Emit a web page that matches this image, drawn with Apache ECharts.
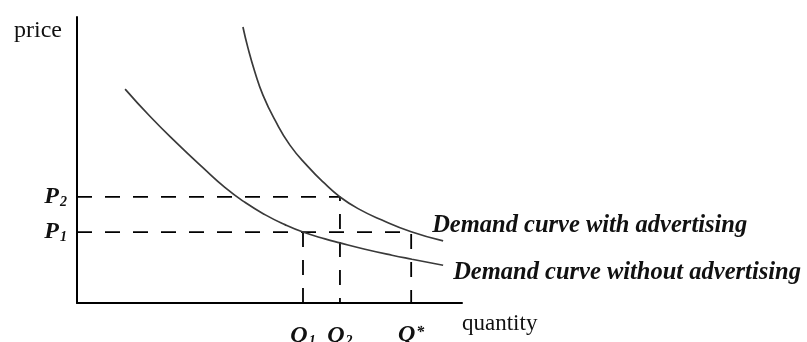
<!DOCTYPE html>
<html>
<head>
<meta charset="utf-8">
<script src="https://cdn.jsdelivr.net/npm/echarts@6/dist/echarts.min.js"></script>
<style>html,body{margin:0;padding:0;background:#fff}#c{width:807px;height:342px}</style>
</head>
<body>
<div id="c"></div>
<script>
// Quantity / price in arbitrary units (0-100 both axes)
const demandWithout = [[12.5,74.8],[19.0,65.2],[26.0,55.8],[32.7,47.3],[38.4,40.4],[43.6,35.2],[48.8,30.9],[54.0,27.4],[58.7,24.8],[64.4,22.4],[68.3,21.0],[74.8,18.8],[81.8,16.7],[87.0,15.3],[95.1,13.2]];
const demandWith = [[43.1,96.5],[44.4,89.2],[46.2,80.8],[48.3,72.7],[51.4,64.0],[55.3,55.2],[60.0,47.7],[64.4,41.7],[68.3,37.1],[73.0,33.0],[79.2,29.0],[86.8,24.9],[95.1,21.7]];
const P1 = 24.8, P2 = 37.1;
const Q1 = 58.7, Q2 = 68.3, QSTAR = 86.8;
const priceLabels = {P1: ['P','1'], P2: ['P','2']};
const quantityLabels = {Q1: ['Q','1'], Q2: ['Q','2'], QSTAR: ['Q','*']};
const seriesNames = ['Demand curve with advertising', 'Demand curve without advertising'];

const serif = '"Liberation Serif", "DejaVu Serif", serif';
const chart = echarts.init(document.getElementById('c'), null, {renderer: 'canvas'});
const dash = {color: '#000', width: 1.8, type: [15, 13]};
const curveStyle = {color: '#3a3a3a', width: 1.7};
const bi = {fontFamily: serif, fontWeight: 'bold', fontStyle: 'italic', color: '#111'};
const richLab = {
  m: Object.assign({fontSize: 24}, bi),
  s: Object.assign({fontSize: 14, padding: [11, 0, 0, 1]}, bi),
  u: Object.assign({fontSize: 16, padding: [0, 0, 4, 1]}, bi)
};
chart.setOption({
  animation: false,
  grid: {left: 77, right: 345, top: 17, bottom: 39, containLabel: false, outerBoundsMode: 'none'},
  xAxis: {
    type: 'value', min: 0, max: 100,
    axisLine: {show: true, lineStyle: {color: '#000', width: 2}},
    axisTick: {show: false}, splitLine: {show: false},
    axisLabel: {
      show: true, customValues: [Q1, Q2, QSTAR], margin: 20,
      formatter: v => {
        const k = v === Q1 ? 'Q1' : v === Q2 ? 'Q2' : 'QSTAR';
        const l = quantityLabels[k];
        return '{m|' + l[0] + '}' + (l[1] === '*' ? '{u|*}' : '{s|' + l[1] + '}');
      },
      rich: richLab
    },
    name: 'quantity', nameLocation: 'end', nameGap: 0,
    nameTextStyle: {fontFamily: serif, fontSize: 23, color: '#111', align: 'left', verticalAlign: 'top', padding: [9, 0, 0, 0]}
  },
  yAxis: {
    type: 'value', min: 0, max: 100,
    axisLine: {show: true, lineStyle: {color: '#000', width: 2}},
    axisTick: {show: false}, splitLine: {show: false},
    axisLabel: {
      show: true, customValues: [P1, P2], margin: 10,
      formatter: v => {
        const l = v === P1 ? priceLabels.P1 : priceLabels.P2;
        return '{m|' + l[0] + '}{s|' + l[1] + '}';
      },
      rich: richLab
    },
    name: 'price', nameLocation: 'end', nameGap: 0,
    nameTextStyle: {fontFamily: serif, fontSize: 24, color: '#111', align: 'right', verticalAlign: 'top', padding: [2, 15, 0, 0]}
  },
  series: [
    {type: 'line', data: [[0, P2], [Q2, P2], [Q2, 0]], symbol: 'none', lineStyle: dash, silent: true},
    {type: 'line', data: [[0, P1], [QSTAR, P1], [QSTAR, 0]], symbol: 'none', lineStyle: dash, silent: true},
    {type: 'line', data: [[Q1, P1], [Q1, 0]], symbol: 'none', lineStyle: dash, silent: true},
    {name: seriesNames[0], type: 'line', data: demandWith, smooth: 0.5, symbol: 'none', lineStyle: curveStyle,
      endLabel: Object.assign({show: true, formatter: seriesNames[0], offset: [-19, -15], fontSize: 24.5}, bi)},
    {name: seriesNames[1], type: 'line', data: demandWithout, smooth: 0.5, symbol: 'none', lineStyle: curveStyle,
      endLabel: Object.assign({show: true, formatter: seriesNames[1], offset: [2, 7], fontSize: 24.5}, bi)}
  ]
});
</script>
</body>
</html>
